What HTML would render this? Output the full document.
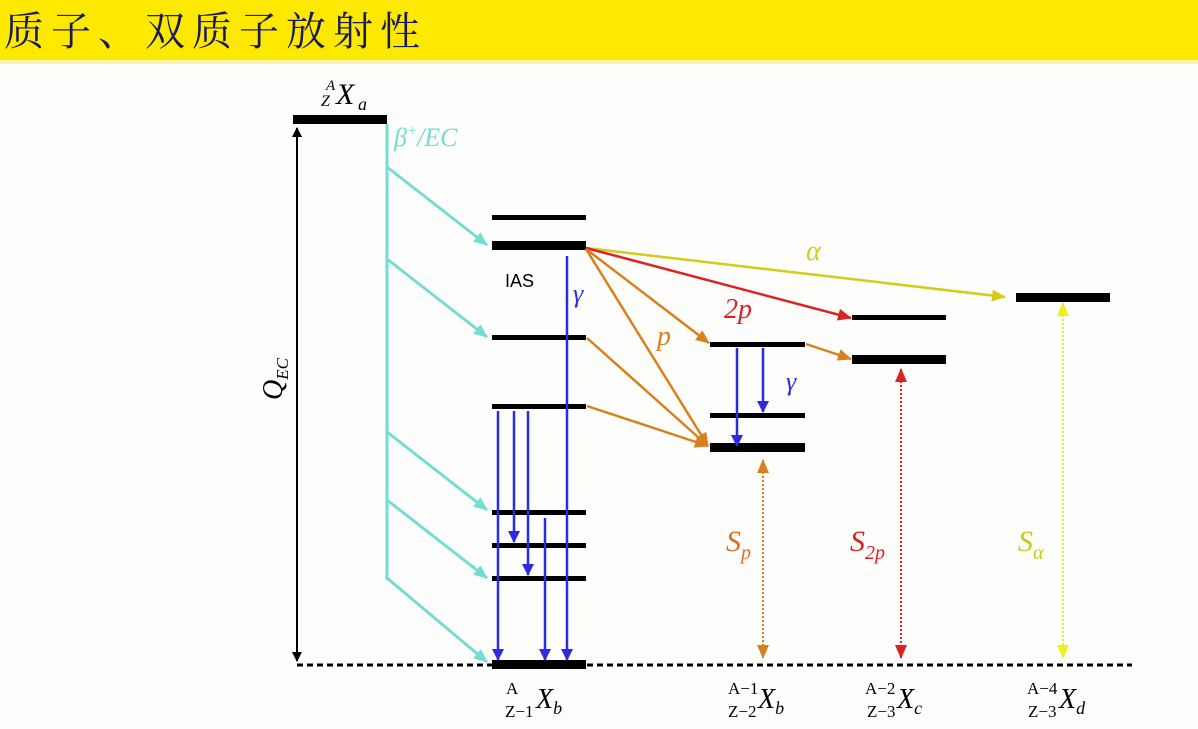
<!DOCTYPE html>
<html><head><meta charset="utf-8"><style>
body{margin:0;width:1198px;height:729px;overflow:hidden;background:#fdfdfb;}
svg{display:block}
.t{font-family:"Liberation Serif",serif;font-style:italic}
.r{font-family:"Liberation Serif",serif}
</style></head><body>
<svg width="1198" height="729" viewBox="0 0 1198 729" xmlns="http://www.w3.org/2000/svg">
<defs>
<marker id="ak" markerWidth="10" markerHeight="10" refX="9" refY="5" orient="auto-start-reverse" markerUnits="userSpaceOnUse"><path d="M0,0 L10,5 L0,10 z" fill="#000"/></marker>
<marker id="ac" markerWidth="14" markerHeight="12" refX="13" refY="6" orient="auto" markerUnits="userSpaceOnUse"><path d="M0,0 L14,6 L0,12 z" fill="#74dcd2"/></marker>
<marker id="ab" markerWidth="12" markerHeight="12" refX="11" refY="6" orient="auto" markerUnits="userSpaceOnUse"><path d="M0,0 L12,6 L0,12 z" fill="#2b2be0"/></marker>
<marker id="ao" markerWidth="14" markerHeight="12" refX="13" refY="6" orient="auto-start-reverse" markerUnits="userSpaceOnUse"><path d="M0,0 L14,6 L0,12 z" fill="#d9801e"/></marker>
<marker id="ar" markerWidth="14" markerHeight="12" refX="13" refY="6" orient="auto-start-reverse" markerUnits="userSpaceOnUse"><path d="M0,0 L14,6 L0,12 z" fill="#dd2222"/></marker>
<marker id="ay" markerWidth="14" markerHeight="12" refX="13" refY="6" orient="auto-start-reverse" markerUnits="userSpaceOnUse"><path d="M0,0 L14,6 L0,12 z" fill="#d4cc1a"/></marker>
<marker id="ay2" markerWidth="14" markerHeight="12" refX="13" refY="6" orient="auto-start-reverse" markerUnits="userSpaceOnUse"><path d="M0,0 L14,6 L0,12 z" fill="#eeee22"/></marker>
</defs>
<rect x="0" y="0" width="1198" height="60" fill="#fde800"/>
<rect x="0" y="60" width="1198" height="4" fill="#fbf1a8"/>
<text x="4" y="45" font-size="40" fill="#1a1a5a" font-family="'Noto Serif CJK SC','Noto Sans CJK SC',serif" letter-spacing="7">质子、双质子放射性</text>

<!-- parent -->
<rect x="293" y="115" width="94" height="9" fill="#000"/>
<text x="326" y="90" class="r" font-size="15" font-style="italic">A</text>
<text x="321" y="106" class="r" font-size="16" font-style="italic">Z</text>
<text x="336" y="104" class="t" font-size="30">X</text>
<text x="358" y="110" class="t" font-size="18">a</text>
<!-- Q_EC -->
<line x1="297" y1="128" x2="297" y2="661" stroke="#000" stroke-width="2" marker-start="url(#ak)" marker-end="url(#ak)"/>
<text transform="translate(282,400) rotate(-90)" class="t" font-size="28">Q<tspan font-size="17" dy="6">EC</tspan></text>
<!-- dotted baseline -->
<line x1="297" y1="665" x2="1132" y2="665" stroke="#000" stroke-width="3" stroke-dasharray="6,4"/>

<!-- cyan -->
<line x1="387" y1="124" x2="387" y2="580" stroke="#74dcd2" stroke-width="3"/>
<text x="394" y="146" class="t" font-size="26" fill="#74dcd2">β<tspan font-size="15" dy="-11">+</tspan><tspan dy="11">/EC</tspan></text>
<g stroke="#74dcd2" stroke-width="3">
<line x1="387" y1="167" x2="487" y2="245" marker-end="url(#ac)"/>
<line x1="387" y1="259" x2="487" y2="337" marker-end="url(#ac)"/>
<line x1="387" y1="432" x2="487" y2="510" marker-end="url(#ac)"/>
<line x1="387" y1="500" x2="487" y2="578" marker-end="url(#ac)"/>
<line x1="387" y1="578" x2="487" y2="662" marker-end="url(#ac)"/>
</g>

<!-- left levels -->
<g fill="#000">
<rect x="492" y="215" width="94" height="5"/>
<rect x="492" y="241" width="94" height="9"/>
<rect x="492" y="335" width="94" height="5"/>
<rect x="492" y="404" width="94" height="5"/>
<rect x="492" y="510" width="94" height="5"/>
<rect x="492" y="543" width="94" height="5"/>
<rect x="492" y="576" width="94" height="5"/>
<rect x="492" y="660" width="94" height="9"/>
</g>
<text x="505" y="287" font-family="'Liberation Sans',sans-serif" font-size="18">IAS</text>
<text x="573" y="302" class="t" font-size="26" fill="#2b2be0">γ</text>
<g stroke="#2b2be0" stroke-width="2.5">
<line x1="567" y1="256" x2="567" y2="660" marker-end="url(#ab)"/>
<line x1="498" y1="411" x2="498" y2="660" marker-end="url(#ab)"/>
<line x1="514" y1="411" x2="514" y2="542" marker-end="url(#ab)"/>
<line x1="528" y1="411" x2="528" y2="575" marker-end="url(#ab)"/>
<line x1="545" y1="518" x2="545" y2="660" marker-end="url(#ab)"/>
</g>

<!-- middle levels -->
<g fill="#000">
<rect x="710" y="342" width="95" height="5"/>
<rect x="710" y="413" width="95" height="5"/>
<rect x="710" y="443" width="95" height="9"/>
<rect x="852" y="315" width="94" height="5"/>
<rect x="852" y="355" width="94" height="9"/>
<rect x="1016" y="293" width="94" height="9"/>
</g>
<g stroke="#2b2be0" stroke-width="2.5">
<line x1="737" y1="348" x2="737" y2="446" marker-end="url(#ab)"/>
<line x1="763" y1="348" x2="763" y2="412" marker-end="url(#ab)"/>
</g>
<text x="786" y="390" class="t" font-size="26" fill="#2b2be0">γ</text>

<!-- decay arrows -->
<line x1="586" y1="248" x2="1005" y2="297" stroke="#d4cc1a" stroke-width="2.5" marker-end="url(#ay)"/>
<text x="806" y="260" class="t" font-size="28" fill="#d4cc1a">α</text>
<line x1="586" y1="248" x2="851" y2="318" stroke="#dd2222" stroke-width="2.5" marker-end="url(#ar)"/>
<text x="724" y="318" class="t" font-size="28" fill="#dd2222">2p</text>
<g stroke="#d9801e" stroke-width="2.5">
<line x1="586" y1="249" x2="709" y2="343" marker-end="url(#ao)"/>
<line x1="586" y1="249" x2="708" y2="446" marker-end="url(#ao)"/>
<line x1="587" y1="338" x2="708" y2="446" marker-end="url(#ao)"/>
<line x1="587" y1="406" x2="708" y2="446" marker-end="url(#ao)"/>
<line x1="806" y1="344" x2="851" y2="359" marker-end="url(#ao)"/>
</g>
<text x="657" y="345" class="t" font-size="28" fill="#d9801e">p</text>

<!-- separation energies -->
<line x1="763" y1="460" x2="763" y2="658" stroke="#d9801e" stroke-width="2" stroke-dasharray="2,2" marker-start="url(#ao)" marker-end="url(#ao)"/>
<line x1="901" y1="369" x2="901" y2="658" stroke="#dd2222" stroke-width="2" stroke-dasharray="2,2" marker-start="url(#ar)" marker-end="url(#ar)"/>
<line x1="1063" y1="303" x2="1063" y2="658" stroke="#eeee22" stroke-width="2" stroke-dasharray="2,2" marker-start="url(#ay2)" marker-end="url(#ay2)"/>
<text x="726" y="551" class="t" font-size="30" fill="#e07020">S<tspan font-size="20" dy="8">p</tspan></text>
<text x="850" y="551" class="t" font-size="30" fill="#dd2222">S<tspan font-size="20" dy="8">2p</tspan></text>
<text x="1018" y="551" class="t" font-size="30" fill="#c8c81a">S<tspan font-size="20" dy="8">α</tspan></text>

<!-- bottom labels -->
<g class="r" font-size="17">
<text x="506" y="694">A</text><text x="505" y="717">Z−1</text>
<text x="728" y="694">A−1</text><text x="728" y="717">Z−2</text>
<text x="865" y="694">A−2</text><text x="867" y="717">Z−3</text>
<text x="1027" y="694">A−4</text><text x="1028" y="717">Z−3</text>
</g>
<g class="t" font-size="28">
<text x="536" y="708">X<tspan font-size="18" dy="6">b</tspan></text>
<text x="758" y="708">X<tspan font-size="18" dy="6">b</tspan></text>
<text x="897" y="708">X<tspan font-size="18" dy="6">c</tspan></text>
<text x="1059" y="708">X<tspan font-size="18" dy="6">d</tspan></text>
</g>
</svg>
</body></html>
